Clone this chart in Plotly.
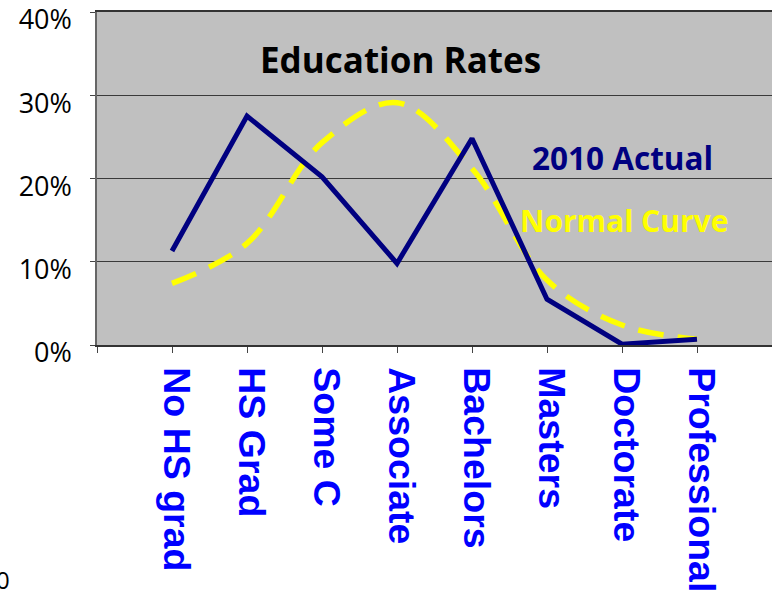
import plotly.graph_objects as go

# Education levels and their shares
categories = ["No HS grad", "HS Grad", "Some C", "Associate", "Bachelors",
              "Masters", "Doctorate", "Professional"]
actual_2010 = [0.113, 0.275, 0.202, 0.098, 0.248, 0.055, 0.001, 0.007]
normal_curve = [0.074, 0.122, 0.243, 0.291, 0.212, 0.078, 0.024, 0.007]
y_ticks = [0, 0.1, 0.2, 0.3, 0.4]
y_tick_labels = ["0%", "10%", "20%", "30%", "40%"]

positions = list(range(len(categories)))

fig = go.Figure()

fig.add_trace(go.Scatter(
    x=positions, y=normal_curve, mode="lines", name="Normal Curve",
    line=dict(color="#FFFF00", width=5.5, dash="26px,14px", shape="spline", smoothing=1.0),
))
fig.add_trace(go.Scatter(
    x=positions, y=actual_2010, mode="lines", name="2010 Actual",
    line=dict(color="#000080", width=5),
))

fig.update_layout(
    width=772, height=592,
    margin=dict(l=97, r=0, t=10, b=247),
    paper_bgcolor="white",
    plot_bgcolor="#C0C0C0",
    showlegend=False,
    xaxis=dict(
        range=[-1, len(categories)],
        tickmode="array",
        tickvals=list(range(-1, len(categories) + 1)),
        ticktext=[""] + categories + [""],
        tickangle=90,
        ticks="outside", ticklen=6, tickcolor="#444444",
        showgrid=False, zeroline=False,
        showline=True, linecolor="#333333", linewidth=1.5, mirror=True,
        tickfont=dict(family="Liberation Sans", size=37.5, color="#0000FF", weight="bold"),
        ticklabelstandoff=7,
        ticklabelshift=4,
    ),
    yaxis=dict(
        range=[0, 0.4],
        tickmode="array", tickvals=y_ticks, ticktext=y_tick_labels,
        ticks="outside", ticklen=5, tickcolor="#444444",
        showgrid=True, gridcolor="#3a3a3a", gridwidth=1,
        zeroline=False,
        showline=True, linecolor="#666666", linewidth=1.5,
        tickfont=dict(family="Open Sans", size=27, color="black"),
        ticklabelstandoff=13,
        ticklabelshift=8,
        ticklabeloverflow="allow",
    ),
    annotations=[
        dict(text="<b>Education Rates</b>", xref="paper", yref="paper",
             x=0.450, y=0.857, xanchor="center", yanchor="middle", showarrow=False,
             font=dict(family="Open Sans", size=35, color="black")),
        dict(text="<b>2010 Actual</b>", xref="paper", yref="paper",
             x=0.779, y=0.564, xanchor="center", yanchor="middle", showarrow=False,
             font=dict(family="Open Sans", size=31.5, color="#000080")),
        dict(text="<b>Normal Curve</b>", xref="paper", yref="paper",
             x=0.781, y=0.373, xanchor="center", yanchor="middle", showarrow=False,
             font=dict(family="Open Sans", size=30, color="#FFFF00")),
        dict(text="0", xref="paper", yref="paper",
             x=-0.126, y=-0.704, xanchor="right", yanchor="middle", showarrow=False,
             font=dict(family="Open Sans", size=24, color="black")),
    ],
)

fig.write_html("out.html")
